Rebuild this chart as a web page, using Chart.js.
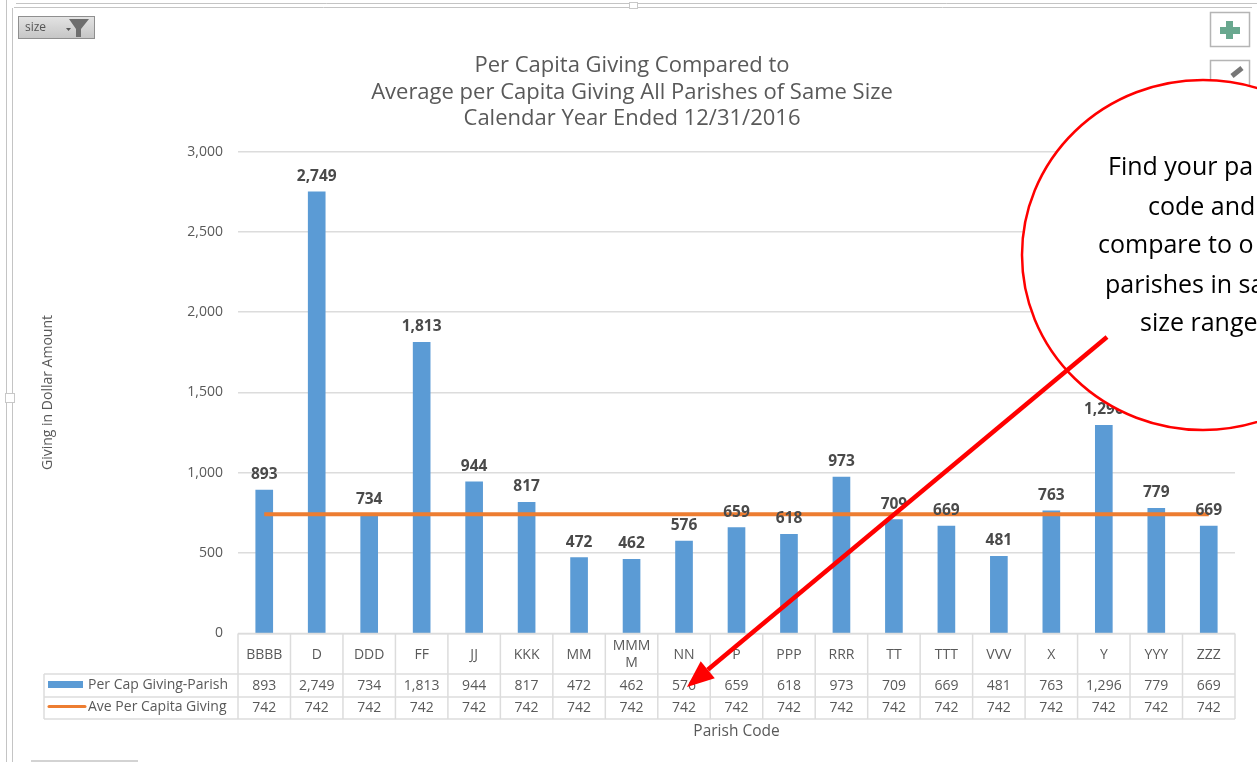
<!DOCTYPE html>
<html>
<head>
<meta charset="utf-8">
<style>html,body{margin:0;padding:0;background:#fff;overflow:hidden}canvas{display:block}</style>
<script src="https://cdn.jsdelivr.net/npm/chart.js@4"></script>
</head>
<body>
<canvas id="c" width="1257" height="762"></canvas>
<script>
const categories = ['BBBB','D','DDD','FF','JJ','KKK','MM',['MMM','M'],'NN','P','PPP','RRR','TT','TTT','VVV','X','Y','YYY','ZZZ'];
const perCapGiving = [893,2749,734,1813,944,817,472,462,576,659,618,973,709,669,481,763,1296,779,669];
const avePerCapita = [742,742,742,742,742,742,742,742,742,742,742,742,742,742,742,742,742,742,742];
const titleLines = ['Per Capita Giving Compared to','Average per Capita Giving All Parishes of Same Size','Calendar Year Ended 12/31/2016'];
const seriesNames = ['Per Cap Giving-Parish','Ave Per Capita Giving'];
const yTitle = 'Giving in Dollar Amount';
const xTitle = 'Parish Code';
const calloutLines = ['Find your pa','code and','compare to o','parishes in sa','size range'];
const FONT = '"Open Sans", sans-serif';
const GREY = '#595959', LINE = '#dcdcdc', BLUE = '#5B9BD5', ORANGE = '#ED7D31', RED = '#ff0000';
const fmt = v => Number(v).toLocaleString('en-US');

const overlay = {
  id: 'overlay',
  afterDatasetsDraw(chart) {
    const ctx = chart.ctx, x = chart.scales.x, y = chart.scales.y;
    const bars = chart.getDatasetMeta(1).data;
    ctx.save();
    // value labels above the bars
    ctx.font = 'bold 15.5px ' + FONT;
    ctx.fillStyle = '#4a4a4a';
    ctx.textAlign = 'center';
    ctx.textBaseline = 'middle';
    bars.forEach((b, i) => ctx.fillText(fmt(perCapGiving[i]), b.x, b.y - 15.5));

    // data table grid
    const top = y.bottom, r1 = 674, r2 = 697, r3 = 719, tl = 44;
    ctx.strokeStyle = LINE; ctx.lineWidth = 1.5;
    const seg = (a, b, c, d) => { ctx.beginPath(); ctx.moveTo(a, b); ctx.lineTo(c, d); ctx.stroke(); };
    const step = x.getPixelForValue(1) - x.getPixelForValue(0);
    const left = x.getPixelForValue(0) - step / 2, right = x.getPixelForValue(categories.length - 1) + step / 2;
    seg(left, top, right, top);
    seg(tl, r1, right, r1); seg(tl, r2, right, r2); seg(tl, r3, right, r3);
    seg(tl, r1, tl, r3);
    for (let i = 0; i <= categories.length; i++) { const p = left + i * step; seg(p, top, p, r3); }

    // table values
    ctx.font = '14px ' + FONT;
    ctx.fillStyle = GREY;
    categories.forEach((c, i) => {
      const p = x.getPixelForValue(i);
      ctx.fillText(fmt(perCapGiving[i]), p, 686);
      ctx.fillText(fmt(avePerCapita[i]), p, 708.5);
    });

    // table legend keys
    ctx.textAlign = 'left';
    ctx.font = '14px ' + FONT;
    ctx.fillText(seriesNames[0], 88, 685);
    ctx.fillText(seriesNames[1], 88, 707.5);
    ctx.fillStyle = BLUE; ctx.fillRect(48, 681, 35, 7);
    ctx.strokeStyle = ORANGE; ctx.lineWidth = 3; ctx.lineCap = 'round';
    seg(49, 706.5, 85, 706.5);
    ctx.lineCap = 'butt';

    // frame of the embedded object
    ctx.strokeStyle = '#c4c4c4'; ctx.lineWidth = 1;
    seg(6.5, 0, 6.5, 762); seg(12.5, 8, 12.5, 762);
    seg(16, 3.5, 1257, 3.5); seg(14, 7.5, 1252, 7.5);
    ctx.fillStyle = '#fff'; ctx.strokeStyle = '#c8c8c8';
    ctx.fillRect(629, 2, 9, 7); ctx.strokeRect(629.5, 2.5, 8, 6);
    ctx.fillRect(5, 393, 10, 10); ctx.strokeRect(5.5, 393.5, 9, 9);

    // field filter button
    const g = ctx.createLinearGradient(0, 16, 0, 38);
    g.addColorStop(0, '#e4e4e4'); g.addColorStop(1, '#c6c6c6');
    ctx.fillStyle = g; ctx.fillRect(18, 16, 77, 23);
    ctx.strokeStyle = '#8f8f8f'; ctx.lineWidth = 1; ctx.strokeRect(18.5, 16.5, 76, 22);
    ctx.fillStyle = '#555'; ctx.font = '12px ' + FONT; ctx.textBaseline = 'middle';
    ctx.fillText('size', 25, 28);
    ctx.beginPath(); ctx.moveTo(66, 28); ctx.lineTo(71, 28); ctx.lineTo(68.5, 31); ctx.closePath(); ctx.fill();
    ctx.fillStyle = '#6e6e6e';
    ctx.beginPath();
    ctx.moveTo(69, 19); ctx.lineTo(89, 19); ctx.lineTo(81, 29); ctx.lineTo(81, 37); ctx.lineTo(76, 37); ctx.lineTo(76, 29); ctx.closePath(); ctx.fill();

    // chart element buttons
    ctx.fillStyle = '#fff'; ctx.strokeStyle = '#b5b5b5'; ctx.lineWidth = 1.5;
    ctx.fillRect(1210, 12, 40, 35); ctx.strokeRect(1210.5, 12.5, 39, 34);
    ctx.fillRect(1210, 60, 40, 36); ctx.strokeRect(1210.5, 60.5, 39, 36);
    ctx.fillStyle = '#69a88f';
    ctx.fillRect(1226, 21, 7, 18); ctx.fillRect(1220, 27, 20, 7);
    ctx.strokeStyle = '#777'; ctx.lineWidth = 5;
    seg(1232, 76, 1242, 68);
    // bottom control
    ctx.strokeStyle = '#c4c4c4'; ctx.lineWidth = 1.5; seg(31, 761, 138, 761);

    // callout bubble
    ctx.beginPath();
    ctx.ellipse(1203, 255, 181, 175, 0, 0, Math.PI * 2);
    ctx.fillStyle = '#fff'; ctx.fill();
    ctx.strokeStyle = RED; ctx.lineWidth = 2.5; ctx.stroke();
    ctx.fillStyle = '#000'; ctx.font = '25px "Open Sans", sans-serif';
    ctx.textAlign = 'left'; ctx.textBaseline = 'alphabetic';
    [[1108,175],[1148,215],[1098,253],[1105,293],[1140,331]].forEach((p, i) => ctx.fillText(calloutLines[i], p[0], p[1]));

    // callout arrow
    const ax = 1107, ay = 337, bx = 687, by = 687;
    const t = Math.atan2(by - ay, bx - ax), L = 27, W = 11;
    const cx = bx - L * Math.cos(t), cy = by - L * Math.sin(t);
    ctx.strokeStyle = RED; ctx.lineWidth = 4.5;
    seg(ax, ay, cx, cy);
    ctx.fillStyle = RED;
    ctx.beginPath(); ctx.moveTo(bx, by);
    ctx.lineTo(cx + W * Math.sin(t), cy - W * Math.cos(t));
    ctx.lineTo(cx - W * Math.sin(t), cy + W * Math.cos(t));
    ctx.closePath(); ctx.fill();
    ctx.restore();
  }
};

new Chart(document.getElementById('c'), {
  type: 'bar',
  data: {
    labels: categories,
    datasets: [
      { type: 'line', label: seriesNames[1], data: avePerCapita, borderColor: ORANGE, backgroundColor: ORANGE, borderWidth: 4, pointRadius: 0, tension: 0, order: 1 },
      { type: 'bar', label: seriesNames[0], data: perCapGiving, backgroundColor: BLUE, barThickness: 17, order: 2 }
    ]
  },
  options: {
    responsive: false,
    animation: false,
    layout: { padding: { left: 29, right: 22, top: 0, bottom: 0 } },
    plugins: {
      legend: { display: false },
      tooltip: { enabled: false },
      title: {
        display: true, text: titleLines, color: GREY,
        font: { family: FONT, size: 22, weight: 'normal', lineHeight: 1.205 },
        padding: { top: 52.5, bottom: 19.5 }
      }
    },
    scales: {
      x: {
        grid: { display: false }, border: { display: false },
        ticks: { color: GREY, font: { family: FONT, size: 14 }, autoSkip: false, maxRotation: 0, minRotation: 0, padding: 5, crossAlign: 'center' },
        title: { display: true, text: xTitle, color: GREY, font: { family: FONT, size: 15.5 }, padding: { top: 0, bottom: 21 } },
        afterFit(s) { s.height = 128.5; }
      },
      y: {
        min: 0, max: 3000,
        grid: { color: LINE, drawTicks: false, lineWidth: 1.5 }, border: { display: false },
        ticks: { stepSize: 500, color: GREY, font: { family: FONT, size: 14 }, padding: 15, callback: v => fmt(v) },
        title: { display: true, text: yTitle, color: GREY, font: { family: FONT, size: 14 }, padding: { top: 11, bottom: 0 } },
        afterFit(s) { s.width = 209; }
      }
    }
  },
  plugins: [overlay]
});
</script>
</body>
</html>
